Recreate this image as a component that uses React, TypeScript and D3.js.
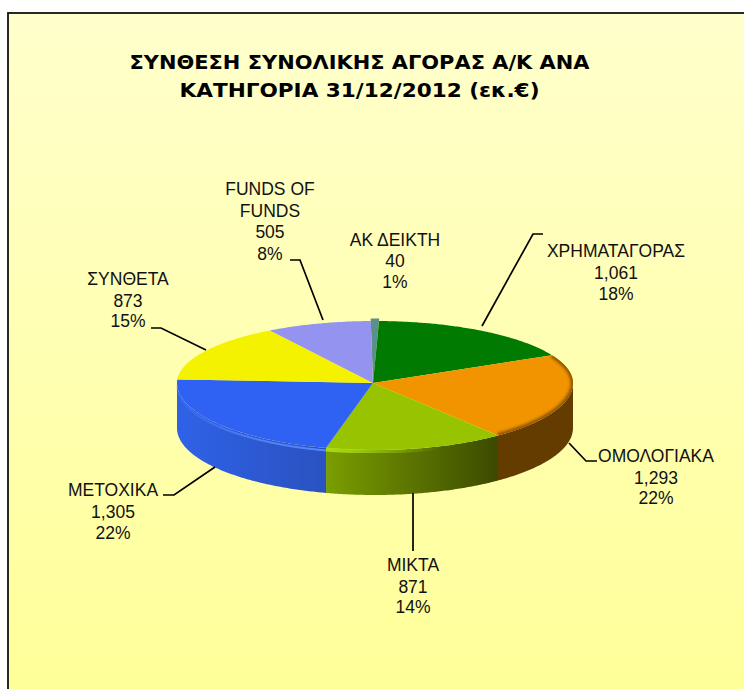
import React from "react";
import * as d3 from "d3";

const categories = ["ΑΚ ΔΕΙΚΤΗ", "ΧΡΗΜΑΤΑΓΟΡΑΣ", "ΟΜΟΛΟΓΙΑΚΑ", "ΜΙΚΤΑ", "ΜΕΤΟΧΙΚΑ", "ΣΥΝΘΕΤΑ", "FUNDS OF FUNDS"];
const values = [40, 1061, 1293, 871, 1305, 873, 505];
const valueLabels = ["40", "1,061", "1,293", "871", "1,305", "873", "505"];
const percentLabels = ["1%", "18%", "22%", "14%", "22%", "15%", "8%"];
const topColors = ["#5A8F8A", "#007A00", "#F29400", "#97C300", "#2F62F2", "#F5F200", "#9494F0"];
const titleLines = ["ΣΥΝΘΕΣΗ ΣΥΝΟΛΙΚΗΣ ΑΓΟΡΑΣ Α/Κ ΑΝΑ", "ΚΑΤΗΓΟΡΙΑ 31/12/2012 (εκ.€)"];
const titleWidths = [460, 360];

const labelX = [395, 616, 656, 413, 113, 128, 270];
const labelY = [246, 257, 462, 571, 496, 285, 195];
const labelRows = [[0, 21, 42], [0, 22, 43], [0, 22, 42], [0, 22, 42], [0, 22, 43], [0, 22, 42], [0, 22, 43, 65]];
const leaders: ([number, number][] | null)[] = [
  null,
  [[543, 234], [533, 234], [482, 326]],
  [[597, 461], [586, 461], [569, 443]],
  [[413, 551], [413, 493]],
  [[163, 495], [174, 495], [215, 467]],
  [[151, 328], [161, 328], [206, 350]],
  [[290, 260], [300, 260], [323, 320]],
];

const cx = 375, cy = 383, apexX = 373, rx = 198, ryBack = 62, ryFront = 67, depth = 45;
const FONT = "'Liberation Sans', 'DejaVu Sans', sans-serif";
const deg = Math.PI / 180;

// the reference's perspective slightly twists the slices away from the top of the pie
const twist = (a: number) => {
  const d = (((a / deg) % 360) + 360) % 360;
  return a - 2.1 * deg * Math.max(0, Math.min(1, d / 50, (335 - d) / 50));
};
const project = (a: number, scale = 1): [number, number] => {
  const t = twist(a);
  const c = Math.cos(t);
  return [cx + rx * scale * Math.sin(t), cy - (c > 0 ? ryBack : ryFront) * scale * c];
};
const sample = (a0: number, a1: number) => {
  const n = Math.max(2, Math.ceil(Math.abs(a1 - a0) / 0.01));
  return d3.range(n + 1).map((i) => a0 + ((a1 - a0) * i) / n);
};
const line = d3.line<[number, number]>().x((d) => d[0]).y((d) => d[1]);

const startAngle = -1.2 * deg;
const pieData = d3.pie<number>().sort(null).startAngle(startAngle).endAngle(startAngle + 2 * Math.PI)(values);

const wedgePath = (a0: number, a1: number, scale = 1) =>
  (line([[apexX, cy], ...sample(a0, a1).map((a) => project(a, scale))]) || "") + "Z";

const sidePath = (a0: number, a1: number) => {
  const lo = Math.max(a0, 92.1 * deg);
  const hi = Math.min(a1, 272.1 * deg);
  if (hi <= lo) return null;
  const top = sample(lo, hi).map((a) => project(a));
  const bottom = sample(hi, lo).map((a) => {
    const p = project(a);
    return [p[0], p[1] + depth] as [number, number];
  });
  return (line([...top, ...bottom]) || "") + "Z";
};

const rim = (a0: number, a1: number, dy = 0, scale = 1) =>
  line(sample(a0, a1).map((a) => {
    const p = project(a, scale);
    return [p[0], p[1] + dy] as [number, number];
  })) || "";

export default function App() {
  const orange = pieData[2], lime = pieData[3], blue = pieData[4];
  return (
    <svg width={744} height={689} style={{ position: "absolute", left: 0, top: 0, background: "#fff" }} fontFamily={FONT}>
      <defs>
        <linearGradient id="bg" x1="0" y1="0" x2="0" y2="1">
          <stop offset="0" stopColor="#FFFFCC" />
          <stop offset="1" stopColor="#FFFF99" />
        </linearGradient>
        <linearGradient id="sideLime" x1="0" y1="0" x2="1" y2="0">
          <stop offset="0" stopColor="#7A9E00" />
          <stop offset="1" stopColor="#3B4A00" />
        </linearGradient>
        <linearGradient id="sideBlue" x1="0" y1="0" x2="1" y2="0">
          <stop offset="0" stopColor="#2F62E8" />
          <stop offset="1" stopColor="#2A52C0" />
        </linearGradient>
        <linearGradient id="limeGlow" gradientUnits="userSpaceOnUse" x1="323" y1="0" x2="440" y2="0">
          <stop offset="0" stopColor="#AADF10" />
          <stop offset="1" stopColor="#AADF10" stopOpacity="0" />
        </linearGradient>
        <linearGradient id="blueGlow" gradientUnits="userSpaceOnUse" x1="178" y1="0" x2="323" y2="0">
          <stop offset="0" stopColor="#5488FF" stopOpacity="0.15" />
          <stop offset="0.5" stopColor="#5488FF" stopOpacity="0.8" />
          <stop offset="1" stopColor="#5488FF" />
        </linearGradient>
        <filter id="soft" x="-10%" y="-10%" width="120%" height="120%">
          <feGaussianBlur stdDeviation="1.6" />
        </filter>
        <filter id="soft2" x="-10%" y="-30%" width="120%" height="160%">
          <feGaussianBlur stdDeviation="0.7" />
        </filter>
        <clipPath id="orangeClip">
          <path d={wedgePath(orange.startAngle, orange.endAngle)} />
        </clipPath>
      </defs>
      <rect x={8} y={13} width={737} height={677} fill="url(#bg)" stroke="#111" strokeWidth={1.8} />

      {pieData.map((d, i) => {
        const p = sidePath(d.startAngle, d.endAngle);
        if (!p) return null;
        const fill = i === 2 ? "#643C00" : i === 3 ? "url(#sideLime)" : "url(#sideBlue)";
        return <path key={i} d={p} fill={fill} />;
      })}
      {pieData.map((d, i) => (
        <path key={i} d={wedgePath(d.startAngle, d.endAngle, i === 0 ? 1.04 : 1)} fill={topColors[i]} />
      ))}
      <g clipPath="url(#orangeClip)">
        <path d={rim(orange.startAngle, orange.endAngle)} fill="none" stroke="#8A5200" strokeWidth={5} filter="url(#soft)" />
      </g>
      <path d={rim(lime.endAngle, lime.startAngle + 20 * deg, 1.5)} fill="none" stroke="url(#limeGlow)" strokeWidth={4} filter="url(#soft2)" />
      <path d={rim(blue.endAngle - 3 * deg, blue.startAngle, 2.5)} fill="none" stroke="url(#blueGlow)" strokeWidth={2} filter="url(#soft2)" />

      {leaders.map((pts, i) =>
        pts ? <path key={i} d={line(pts) || ""} fill="none" stroke="#000" strokeWidth={1.7} /> : null
      )}

      {titleLines.map((t, i) => (
        <text key={t} x={359.5} y={69 + i * 28} textAnchor="middle" fontFamily="'DejaVu Sans', sans-serif" fontWeight={700} fontSize={19} textLength={titleWidths[i]} lengthAdjust="spacingAndGlyphs" fill="#000">
          {t}
        </text>
      ))}

      {categories.map((c, i) => {
        const nameRows = c === "FUNDS OF FUNDS" ? ["FUNDS OF", "FUNDS"] : [c];
        const rows = [...nameRows, valueLabels[i], percentLabels[i]];
        return (
          <text key={c} textAnchor="middle" fontSize={17.5} fill="#111">
            {rows.map((r, j) => (
              <tspan key={j} x={labelX[i]} y={labelY[i] + labelRows[i][j]}>{r}</tspan>
            ))}
          </text>
        );
      })}
    </svg>
  );
}
